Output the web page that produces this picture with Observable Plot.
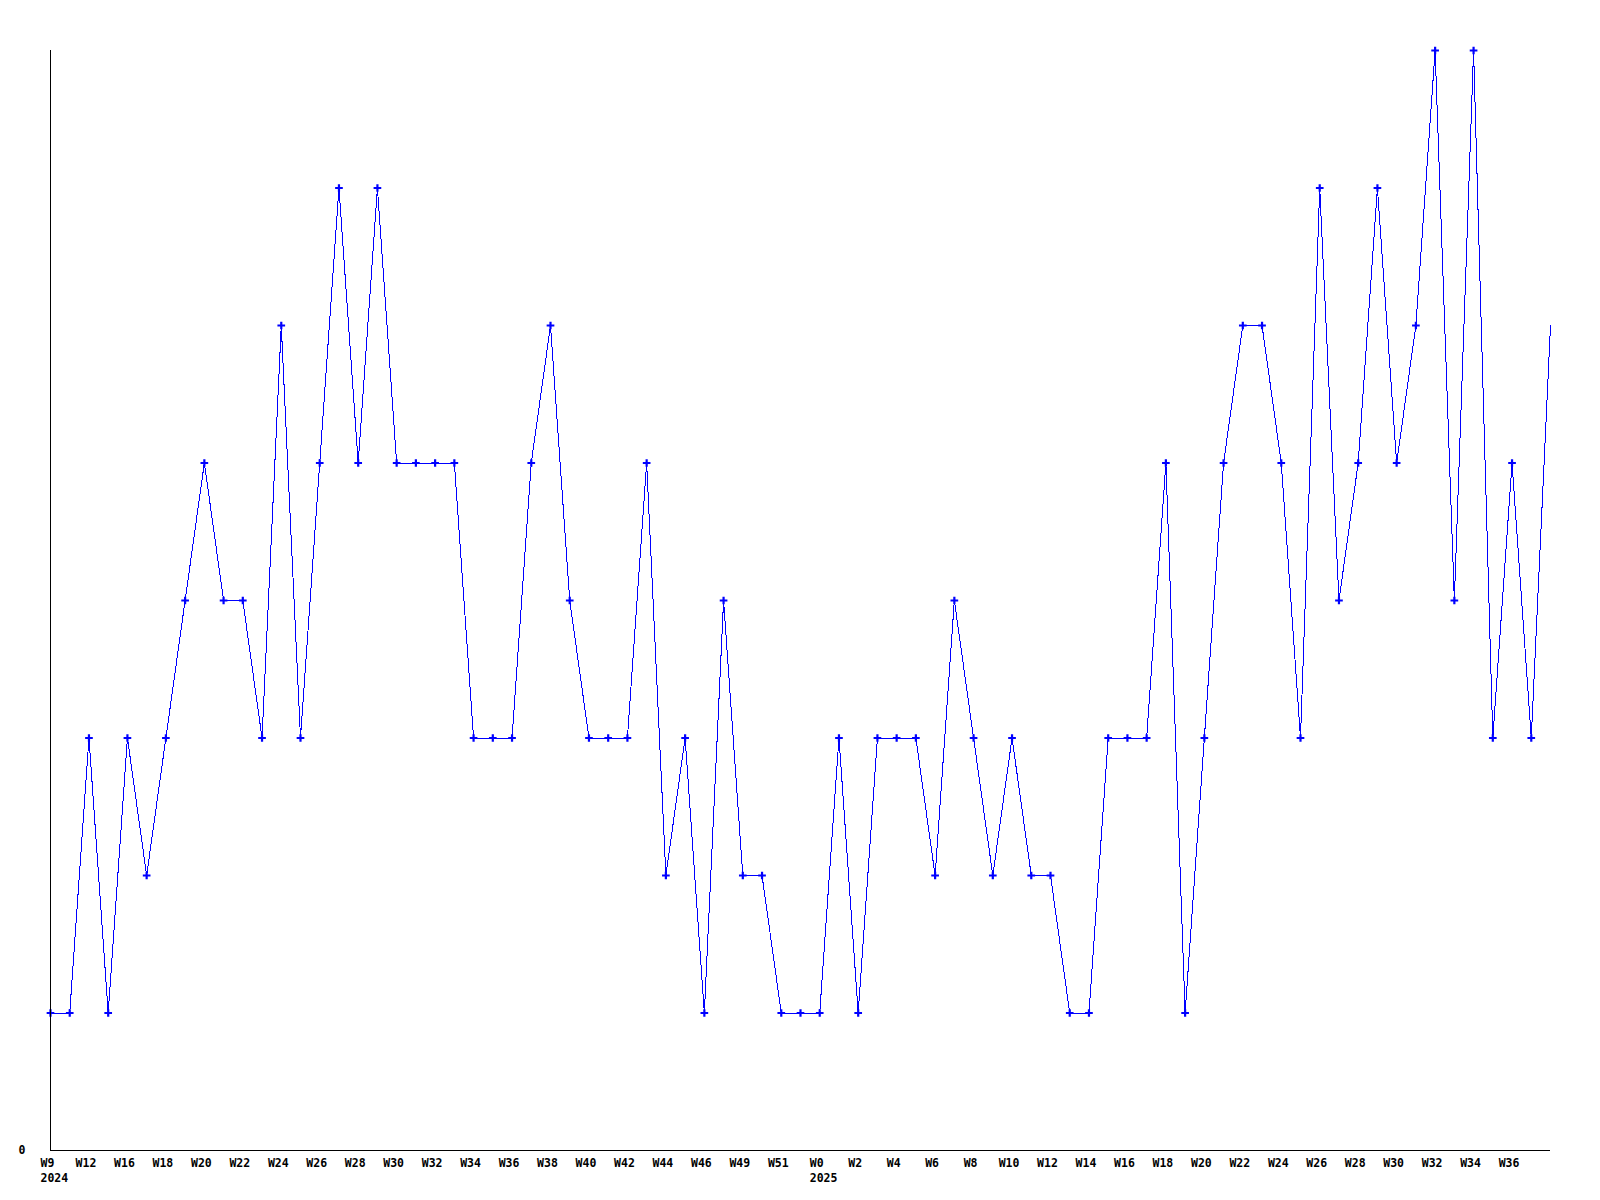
<!DOCTYPE html>
<html>
<head>
<meta charset="utf-8">
<script src="https://cdn.jsdelivr.net/npm/d3@7"></script>
<script src="https://cdn.jsdelivr.net/npm/@observablehq/plot@0.6"></script>
<style>
  html, body { margin: 0; padding: 0; background: #fff; }
  #chart svg { display: block; }
</style>
</head>
<body>
<div id="chart"></div>
<script>
// Weekly values, one per point (79 points)
const values = [
  1, 1, 3, 1, 3, 2, 3, 4, 5, 4,
  4, 3, 6, 3, 5, 7, 5, 7, 5, 5,
  5, 5, 3, 3, 3, 5, 6, 4, 3, 3,
  3, 5, 2, 3, 1, 4, 2, 2, 1, 1,
  1, 3, 1, 3, 3, 3, 2, 4, 3, 2,
  3, 2, 2, 1, 1, 3, 3, 3, 5, 1,
  3, 5, 6, 6, 5, 3, 7, 4, 5, 7,
  5, 6, 8, 4, 8, 3, 5, 3, 6
];
// Tick labels, shown on every other point
const tickLabels = [
  "W9", "W12", "W16", "W18", "W20", "W22", "W24", "W26", "W28", "W30",
  "W32", "W34", "W36", "W38", "W40", "W42", "W44", "W46", "W49", "W51",
  "W0", "W2", "W4", "W6", "W8", "W10", "W12", "W14", "W16", "W18",
  "W20", "W22", "W24", "W26", "W28", "W30", "W32", "W34", "W36"
];
const years = ["2024", "2025"];
const yearIndex = [0, 40];

const data = values.map((v, i) => ({i, v}));
const markerData = data.slice(0, data.length - 1);
const tickIdx = tickLabels.map((_, k) => k * 2);
const yearData = years.map((t, k) => ({i: yearIndex[k], t}));

const font = "'DejaVu Sans Mono', monospace";

const chart = Plot.plot({
  width: 1600,
  height: 1200,
  marginLeft: 50,
  marginRight: 50,
  marginTop: 50,
  marginBottom: 50,
  style: {fontFamily: font, fontSize: "11.5px", fontWeight: "bold", background: "#fff", color: "#000"},
  x: {type: "linear", domain: [0, values.length - 1], range: [50, 1550]},
  y: {domain: [0, 8], range: [1150, 50]},
  marks: [
    Plot.axisX({ticks: tickIdx, tickFormat: i => tickLabels[i / 2], tickSize: 0, tickPadding: 8, label: null, dx: -3, fontWeight: "bold"}),
    Plot.axisY({ticks: [0], tickFormat: d => String(d), tickSize: 0, tickPadding: 25, label: null, fontWeight: "bold"}),
    Plot.text(yearData, {x: "i", text: "t", frameAnchor: "bottom", lineAnchor: "top", textAnchor: "start", dx: -10, dy: 23, fontWeight: "bold", fill: "#000"}),
    Plot.line(data, {x: "i", y: "v", stroke: "#0000ff", strokeWidth: 1, shapeRendering: "crispEdges"}),
    Plot.dot(markerData, {x: "i", y: "v", symbol: "plus", r: 2.6, stroke: "#0000ff", strokeWidth: 2.2}),
    Plot.ruleX([0], {y1: 0, y2: 8, stroke: "#000", strokeWidth: 1}),
    Plot.ruleY([0], {x1: 0, x2: values.length - 1, stroke: "#000", strokeWidth: 1})
  ]
});
document.getElementById("chart").appendChild(chart);
</script>
</body>
</html>
